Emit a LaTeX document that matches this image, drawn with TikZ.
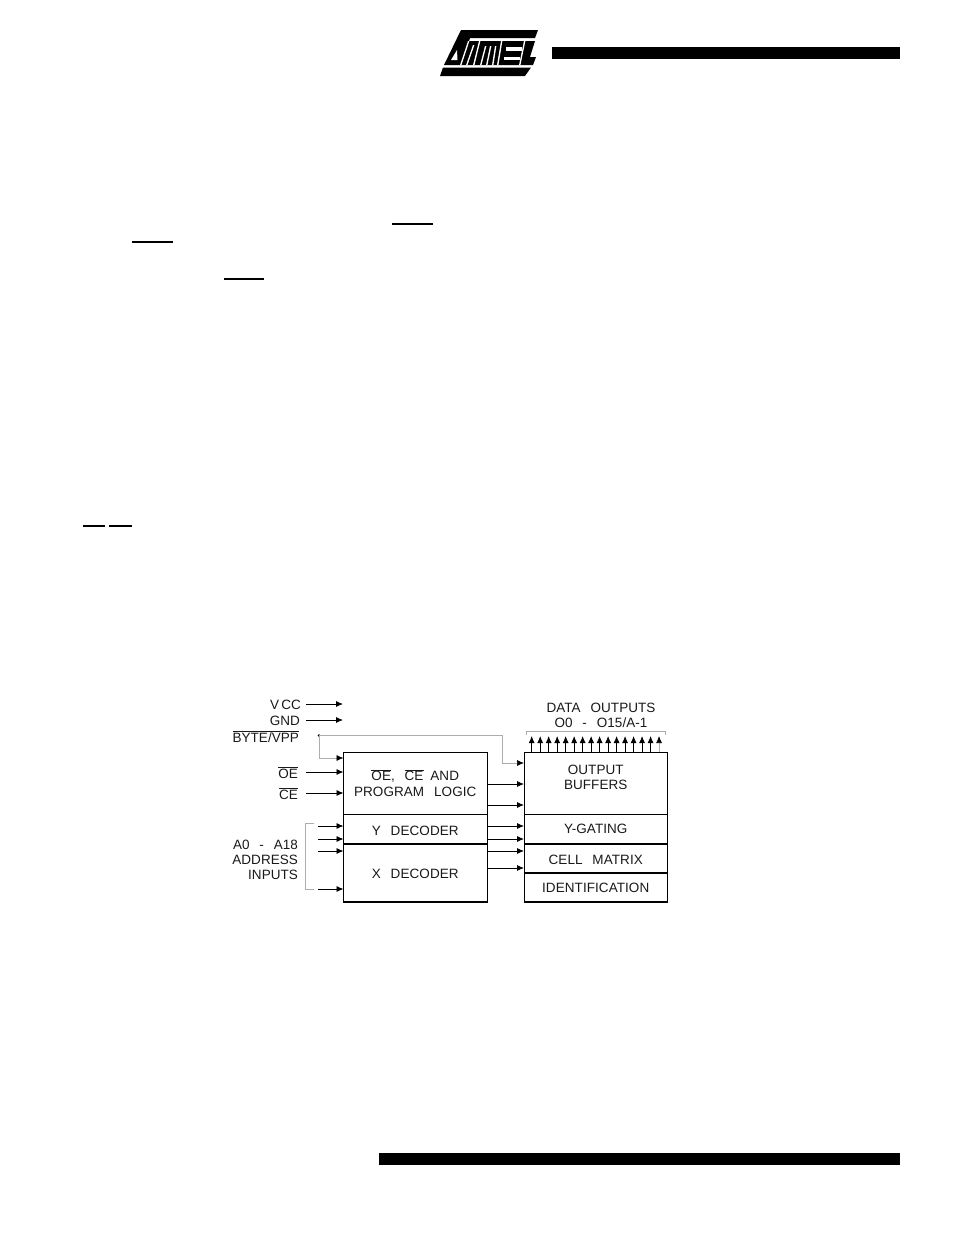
\documentclass[tikz,border=0pt]{standalone}
\usepackage{fontspec}
\setmainfont[LetterSpace=0.5,WordSpace=1.8]{Liberation Sans}
\usetikzlibrary{arrows.meta}
\newcommand{\ovl}[1]{$\overline{\hbox{#1}}$}
\newcommand{\lowr}[2]{\raisebox{-#1}[\height][\depth]{#2}}
\definecolor{ink}{gray}{0.1}
\definecolor{faint}{gray}{0.68}
\tikzset{
  blockbox/.style={draw=black,line width=1pt,inner sep=0pt,outer sep=0pt,align=center,font=\fontsize{13.5}{15}\selectfont,text=ink,anchor=north west},
  lab/.style={inner sep=0pt,outer sep=0pt,font=\fontsize{13.5}{15}\selectfont,text=ink,anchor=base east},
  clab/.style={lab,anchor=base},
  sig/.style={draw=black,line width=0.8pt,-{Latex[length=7pt,width=6pt]}},
  thinsig/.style={draw=faint,line width=0.7pt,-{Latex[length=7pt,width=6pt,black]}},
  brack/.style={draw=faint,line width=0.7pt},
  sep/.style={draw=black,line width=2pt},
  base line/.style={draw=black,line width=1.6pt},
  ovbar/.style={draw=black,line width=1.1pt}
}
\begin{document}
\begin{tikzpicture}[x=1pt,y=-1pt]
\useasboundingbox (0,0) rectangle (954,1235);
% page bars
\fill[black] (552,47) rectangle (900,59);
\fill[black] (379,1153) rectangle (900,1165);
% logo
\fill[black] (461,30) -- (538,30) -- (535,38) -- (470,38) -- (469,41) -- (535,41) -- (530,57) -- (536,57) -- (533,65) -- (444,65) -- cycle;
\fill[black] (443,67.5) -- (531,67.5) -- (525,76) -- (440,76) -- cycle;
\fill[white] (451,60) -- (457,50) -- (457.5,60) -- cycle;
\foreach \b/\t/\ty in {460/468/41,466/473/45,473/479/41,480/485/46,486/490/46,492/495/46,497/501/41,519/524/41}{
  \fill[white] (\b,65.2) -- ({\b+1.4},65.2) -- ({\t+1.4},\ty) -- (\t,\ty) -- cycle;
}
\fill[white] (506,47) rectangle (522,50.5);
\fill[white] (504,57) rectangle (520,60);
% page overlines
\draw[ovbar] (392,224) -- (433,224);
\draw[ovbar] (132,242) -- (173,242);
\draw[ovbar] (224,279) -- (264,279);
\draw[ovbar] (83,526) -- (105,526);
\draw[ovbar] (109,526) -- (132,526);
% blocks
\node[blockbox,minimum width=143.5pt,minimum height=62.5pt] (logic) at (343.5,752) {\ovl{OE},\hspace{3pt} \ovl{CE}\ AND\\[1pt]PROGRAM\hspace{3pt} LOGIC};
\node[blockbox,minimum width=143.5pt,minimum height=29.5pt] (ydec) at (343.5,814.5) {\lowr{2pt}{Y\hspace{3pt} DECODER}};
\node[blockbox,minimum width=143.5pt,minimum height=58pt] (xdec) at (343.5,844) {\lowr{1pt}{X\hspace{3pt} DECODER}};
\node[blockbox,minimum width=142.5pt,minimum height=62.5pt] (buf) at (524.5,752) {OUTPUT\\BUFFERS\\[-7pt]\strut};
\node[blockbox,minimum width=142.5pt,minimum height=29.5pt] (ygate) at (524.5,814.5) {Y-GATING};
\node[blockbox,minimum width=142.5pt,minimum height=29pt] (cell) at (524.5,844) {\lowr{1pt}{CELL\hspace{3pt} MATRIX}};
\node[blockbox,minimum width=142.5pt,minimum height=29pt] (ident) at (524.5,873) {IDENTIFICATION};
\draw[sep] (xdec.north west) -- (xdec.north east);
\draw[sep] (cell.north west) -- (cell.north east);
\draw[sep] (ident.north west) -- (ident.north east);
\draw[base line] (xdec.south west) -- (xdec.south east);
\draw[base line] (ident.south west) -- (ident.south east);
% labels
\node[lab] (vcc) at (301,709) {V\,CC};
\node[lab] (gnd) at (300,725) {GND};
\node[lab] (byte) at (299,742) {\ovl{BYTE/VPP}};
\node[lab] (oe) at (298,778) {\ovl{OE}};
\node[lab] (ce) at (298,799.5) {\ovl{CE}};
\node[lab] (a0) at (298,849.5) {A0\hspace{3pt} -\hspace{3pt} A18};
\node[lab] (addr) at (298,864.5) {ADDRESS};
\node[lab] (inp) at (298,879.5) {INPUTS};
\node[clab] (dat) at (601,712) {DATA\hspace{3pt} OUTPUTS};
\node[clab] (odat) at (601,727) {O0\hspace{3pt} -\hspace{3pt} O15/A-1};
% input connectors
\coordinate (vs) at (306,704); \coordinate (ve) at (343,704);
\coordinate (gs) at (306,720); \coordinate (ge) at (343,720);
\draw[sig] (vs) -- (ve);
\draw[sig] (gs) -- (ge);
\coordinate (bd) at (319,735.5);
\fill[black] (bd) circle (1.3pt);
\coordinate (lt) at (343.5,758);
\draw[thinsig] (bd) |- (lt);
\coordinate (rt) at (524,763);
\coordinate (rk) at (502,735.5);
\draw[thinsig] (bd) -- (rk) |- (rt);
\coordinate (oes) at (306,772); \coordinate (oee) at (343.5,772);
\coordinate (ces) at (306,793); \coordinate (cee) at (343.5,793);
\draw[sig] (oes) -- (oee);
\draw[sig] (ces) -- (cee);
% address
\coordinate (bt) at (314,823.7); \coordinate (bb) at (314,889);
\draw[brack] (bt) -- ++(-8.5,0) |- (bb);
\foreach \n/\y in {a/826,b/839,c/851,d/889}{
  \coordinate (as\n) at (318,\y); \coordinate (ae\n) at (343.5,\y);
  \draw[sig] (as\n) -- (ae\n);
}
% between blocks
\foreach \n/\y in {a/784,b/805,c/826,d/839,e/851,f/868}{
  \coordinate (ms\n) at (487,\y); \coordinate (me\n) at (524,\y);
  \draw[sig] (ms\n) -- (me\n);
}
% data outputs
\foreach \i in {0,...,15}{
  \coordinate (d\i s) at ({531.7+8.49*\i},752);
  \coordinate (d\i e) at ({531.7+8.49*\i},736);
  \ifnum\i=15 \draw[thinsig] (d\i s) -- (d\i e); \else \draw[sig] (d\i s) -- (d\i e); \fi
}
\coordinate (bl) at (526.7,735); \coordinate (br) at (665.3,735);
\draw[brack] (bl) -- ++(0,-3.3) -| (br);
\end{tikzpicture}
\end{document}
